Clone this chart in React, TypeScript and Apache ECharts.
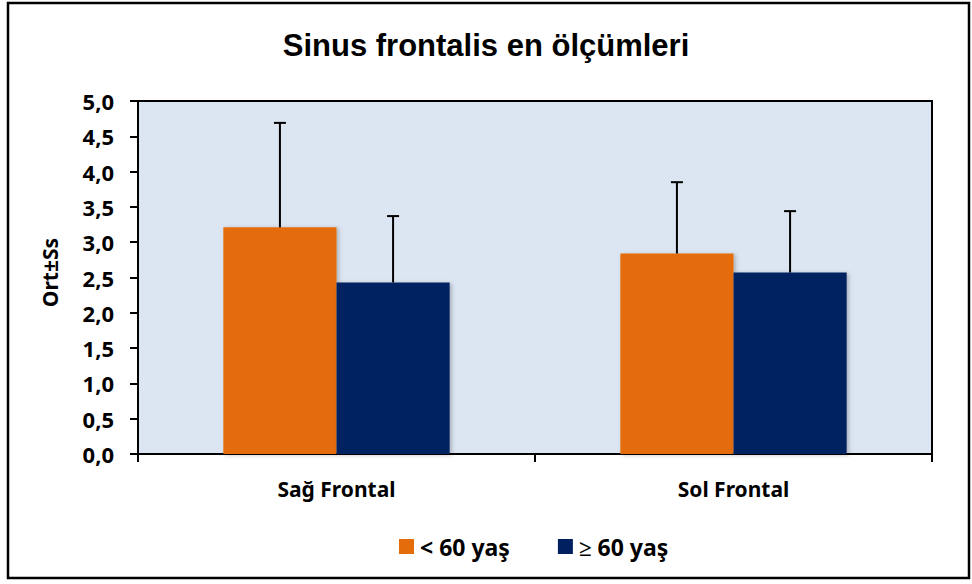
import React, { useEffect, useRef } from "react";
import * as echarts from "echarts";

const categories = ["Sağ Frontal", "Sol Frontal"];
const seriesNames = ["< 60 yaş", "≥ 60 yaş"];
const meansUnder60 = [3.21, 2.84];
const meansOver60 = [2.43, 2.57];
const sdUnder60 = [1.48, 1.01];
const sdOver60 = [0.94, 0.87];
const yTicks = { min: 0, max: 5, interval: 0.5 };

const COLORS = ["#E46C0A", "#002060"];
const FONT = "Noto Sans";
const BAR_CAT_GAP = 0.43;

export default function App() {
  const ref = useRef<HTMLDivElement>(null);
  useEffect(() => {
    if (!ref.current) return;
    const chart = echarts.init(ref.current, undefined, { renderer: "svg" });
    const errData: number[][] = [];
    categories.forEach((_, i) => {
      errData.push([i, meansUnder60[i], sdUnder60[i], 0]);
      errData.push([i, meansOver60[i], sdOver60[i], 1]);
    });
    chart.setOption({
      animation: false,
      backgroundColor: "#fff",
      title: {
        text: "Sinus frontalis en ölçümleri",
        left: "center",
        top: 25,
        textStyle: { fontFamily: "Liberation Sans", fontWeight: "bold", fontSize: 31, color: "#000" },
      },
      graphic: [
        {
          type: "rect",
          shape: { x: 8, y: 3, width: 961, height: 575 },
          style: { fill: "none", stroke: "#000", lineWidth: 2.5 },
          z: 100,
        },
      ],
      legend: {
        bottom: 21,
        left: 394,
        itemWidth: 15,
        itemHeight: 15,
        itemGap: 48,
        icon: "rect",
        data: seriesNames,
        textStyle: { fontFamily: FONT, fontWeight: "bold", fontSize: 23, color: "#000", padding: [0, 0, 0, 1] },
      },
      grid: {
        left: 138,
        right: 40,
        top: 101,
        bottom: 130,
        show: true,
        backgroundColor: "#DCE6F2",
        borderColor: "#000",
        borderWidth: 2,
      },
      xAxis: {
        type: "category",
        data: categories,
        axisLine: { lineStyle: { color: "#000", width: 2 } },
        axisTick: { show: true, length: 8, lineStyle: { color: "#000", width: 2 } },
        axisLabel: { fontFamily: FONT, fontWeight: "bold", fontSize: 21, color: "#000", margin: 24 },
      },
      yAxis: {
        type: "value",
        min: yTicks.min,
        max: yTicks.max,
        interval: yTicks.interval,
        name: "Ort±Ss",
        nameLocation: "middle",
        nameRotate: 90,
        nameGap: 78,
        nameTextStyle: { fontFamily: FONT, fontWeight: "bold", fontSize: 21, color: "#000", padding: [0, 0, 0, 10] },
        axisLine: { show: true, lineStyle: { color: "#000", width: 2 } },
        axisTick: { show: true, length: 8, lineStyle: { color: "#000", width: 2 } },
        splitLine: { show: false },
        axisLabel: {
          fontFamily: FONT,
          fontWeight: "bold",
          fontSize: 22,
          color: "#000",
          margin: 24,
          formatter: (v: number) => v.toFixed(1).replace(".", ","),
        },
      },
      series: [
        {
          name: seriesNames[0],
          type: "bar",
          data: meansUnder60,
          barGap: "0%",
          barCategoryGap: BAR_CAT_GAP * 100 + "%",
          itemStyle: { color: COLORS[0], shadowColor: "rgba(0,0,0,0.25)", shadowBlur: 4, shadowOffsetX: 2, shadowOffsetY: 1 },
        },
        {
          name: seriesNames[1],
          type: "bar",
          data: meansOver60,
          barGap: "0%",
          barCategoryGap: BAR_CAT_GAP * 100 + "%",
          itemStyle: { color: COLORS[1], shadowColor: "rgba(0,0,0,0.25)", shadowBlur: 4, shadowOffsetX: 2, shadowOffsetY: 1 },
        },
        {
          type: "custom",
          name: "err",
          data: errData,
          z: 10,
          renderItem: (params: any, api: any) => {
            const cat = api.value(0);
            const mean = api.value(1);
            const sd = api.value(2);
            const which = api.value(3);
            const catW = api.size([1, 0])[0];
            const barW = (catW * (1 - BAR_CAT_GAP)) / 2;
            const base = api.coord([cat, mean]);
            const top = api.coord([cat, mean + sd]);
            const x = base[0] + (which === 0 ? -barW / 2 : barW / 2);
            const cap = 6;
            const style = { stroke: "#000", lineWidth: 2 };
            return {
              type: "group",
              children: [
                { type: "line", shape: { x1: x, y1: base[1], x2: x, y2: top[1] }, style },
                { type: "line", shape: { x1: x - cap, y1: top[1], x2: x + cap, y2: top[1] }, style },
              ],
            };
          },
        },
      ],
    });
    return () => chart.dispose();
  }, []);
  return <div ref={ref} style={{ position: "fixed", left: 0, top: 0, width: 972, height: 584 }} />;
}
